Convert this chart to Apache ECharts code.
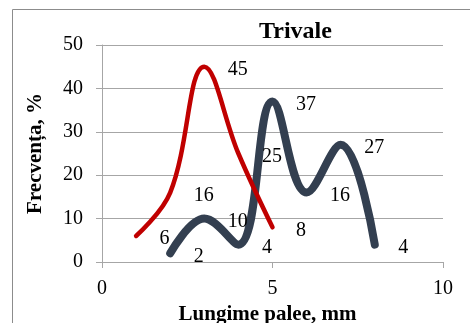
<!DOCTYPE html>
<html>
<head>
<meta charset="utf-8">
<script src="https://cdn.jsdelivr.net/npm/echarts@6/dist/echarts.min.js"></script>
<style>
  html, body { margin: 0; padding: 0; background: #fff; }
  #chart { width: 470px; height: 323px; }
</style>
</head>
<body>
<div id="chart"></div>
<script>
// Stem length (mm) vs frequency (%) for two samples
const redX = [1, 2, 3, 4, 5];
const redY = [6, 16, 45, 25, 8];
const darkX = [2, 3, 4, 5, 6, 7, 8];
const darkY = [2, 10, 4, 37, 16, 27, 4];
const xTicks = [0, 5, 10];
const yTicks = [0, 10, 20, 30, 40, 50];

const pairs = (xs, ys) => xs.map((x, i) => [x, ys[i]]);
const serif = '"Liberation Serif", "Times New Roman", serif';

const labelStyle = {
  show: true,
  position: 'right',
  distance: 23,
  offset: [0, 3],
  fontFamily: serif,
  fontSize: 20,
  color: '#000'
};

const chart = echarts.init(document.getElementById('chart'));
chart.setOption({
  animation: false,
  title: {
    text: 'Trivale',
    left: 254,
    top: 15,
    textStyle: { fontFamily: serif, fontSize: 24, fontWeight: 'bold', color: '#000' }
  },
  graphic: [{
    type: 'rect',
    shape: { x: 12.5, y: 9.5, width: 480, height: 330 },
    style: { fill: 'none', stroke: '#8c8c8c', lineWidth: 1 },
    silent: true,
    z: -1
  }],
  grid: { left: 102, right: 27, top: 45, bottom: 61, containLabel: false, outerBoundsMode: 'none' },
  xAxis: {
    type: 'value',
    min: xTicks[0],
    max: xTicks[xTicks.length - 1],
    interval: 5,
    name: 'Lungime palee, mm',
    nameLocation: 'middle',
    nameGap: 32,
    nameTextStyle: { fontFamily: serif, fontSize: 21, fontWeight: 'bold', color: '#000', padding: [0, 10, 0, 0] },
    axisLine: { show: true, lineStyle: { color: '#a6a6a6', width: 1 } },
    axisTick: { show: true, length: 6, lineStyle: { color: '#a6a6a6' } },
    axisLabel: { margin: 17, fontFamily: serif, fontSize: 20, color: '#000' },
    splitLine: { show: false }
  },
  yAxis: {
    type: 'value',
    min: yTicks[0],
    max: yTicks[yTicks.length - 1],
    interval: 10,
    name: 'Frecvența, %',
    nameLocation: 'middle',
    nameGap: 56,
    nameTextStyle: { fontFamily: serif, fontSize: 21, fontWeight: 'bold', color: '#000' },
    axisLine: { show: true, lineStyle: { color: '#a6a6a6', width: 1 } },
    axisTick: { show: true, length: 6, lineStyle: { color: '#a6a6a6' } },
    axisLabel: { margin: 19, fontFamily: serif, fontSize: 20, color: '#000' },
    splitLine: { show: true, lineStyle: { color: '#a6a6a6', width: 1 } }
  },
  series: [
    {
      type: 'line',
      data: pairs(redX, redY),
      smooth: 0.4,
      symbol: 'circle',
      symbolSize: 1,
      itemStyle: { color: 'rgba(0,0,0,0)' },
      lineStyle: { color: '#c00000', width: 4.5, cap: 'round', join: 'round' },
      label: labelStyle,
      z: 3
    },
    {
      type: 'line',
      data: pairs(darkX, darkY),
      smooth: 0.4,
      symbol: 'circle',
      symbolSize: 1,
      itemStyle: { color: 'rgba(0,0,0,0)' },
      lineStyle: { color: '#333f50', width: 8, cap: 'round', join: 'round' },
      label: labelStyle,
      z: 2
    }
  ]
});
</script>
</body>
</html>
